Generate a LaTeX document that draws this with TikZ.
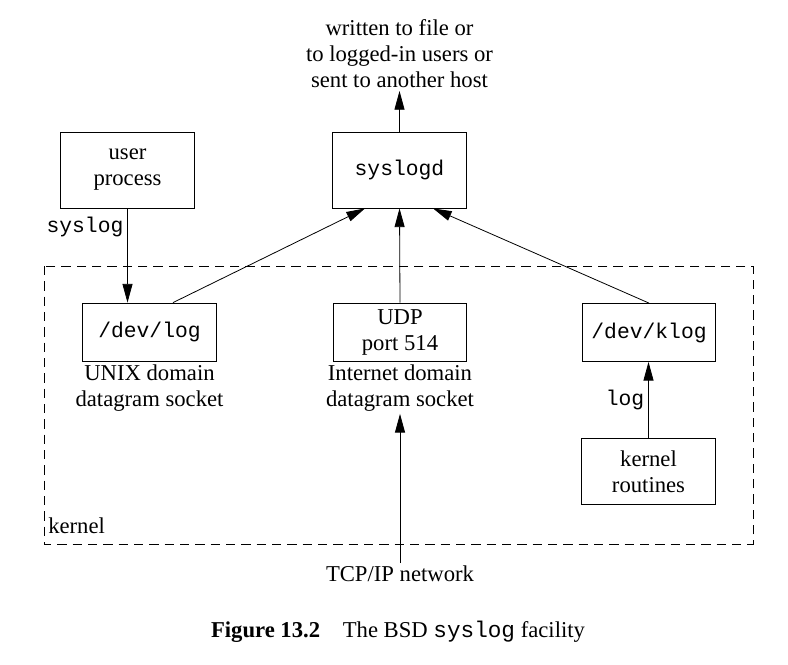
\documentclass[tikz,border=0pt]{standalone}
\usepackage{fontspec}
\setmainfont{Liberation Serif}
\setmonofont{Liberation Mono}
\usetikzlibrary{positioning, arrows.meta, calc}
\tikzset{
  box/.style={draw, line width=0.6pt, minimum width=100pt, minimum height=43.5pt,
    inner sep=0, align=center, font=\fontsize{17pt}{19.5pt}\selectfont},
  tallbox/.style={box, minimum height=57pt},
  ttbox/.style={box, font=\fontsize{16pt}{19.5pt}\selectfont\ttfamily},
  plain/.style={inner sep=2pt, align=center, font=\fontsize{17pt}{19.5pt}\selectfont},
  ttlabel/.style={inner sep=0, font=\fontsize{16pt}{19.5pt}\selectfont\ttfamily},
  link/.style={line width=0.6pt, -{Triangle[length=14pt,width=7.5pt]}}
}
\begin{document}
\begin{tikzpicture}[x=0.75pt, y=-0.75pt]
\useasboundingbox (0,0) rectangle (788,664);

% kernel area
\draw[line width=0.6pt, dash pattern=on 7pt off 4.5pt] (44,266) rectangle (753,544);
\node [plain, anchor=west, inner sep=0] (kernel) at (48,526) {kernel};

% boxes
\node [tallbox] (user) at (127.5,170) {user\\process};
\node [tallbox, font=\fontsize{16pt}{19.5pt}\selectfont\ttfamily] (syslogd) at (399.5,170) {syslogd};
\node [ttbox] (devlog) at (149.5,332) {/dev/log};
\node [box] (udp) at (400,332) {UDP\\port 514};
\node [ttbox] (klog) at (649,332.5) {/dev/klog};
\node [box, minimum height=50pt] (kroutines) at (648.5,471.5) {kernel\\routines};

% texts
\node [plain, anchor=south] (out) at (399.5,91) {written to file or\\to logged-in users or\\sent to another host};
\node [plain, anchor=north] (unixlbl) at (devlog.south) {UNIX domain\\datagram socket};
\node [plain, anchor=north] (inetlbl) at (udp.south) {Internet domain\\datagram socket};
\node [plain] (tcp) at (400,574) {TCP/IP network};
\node [ttlabel] (sysloglbl) at (85,227) {syslog};
\node [ttlabel] (loglbl) at (625,400) {log};

% connectors
\draw[link] (syslogd.north) -- (out.south);
\draw[link] (user.south) -- (user.south |- devlog.north);
\draw[link] ($(devlog.north)+(23.5,0)$) -- ($(syslogd.south)+(-34.5,0)$);
\draw[link] (udp.north) -- (syslogd.south);
\draw[link] (klog.north) -- ($(syslogd.south)+(33.5,0)$);
\draw[link] (kroutines.north) -- (kroutines.north |- klog.south);
\draw[link] (tcp.north) -- (tcp.north |- inetlbl.south);

% caption
\node [plain] (caption) at (398,632) {\textbf{Figure 13.2}\quad The BSD {\ttfamily syslog} facility};
\end{tikzpicture}
\end{document}
